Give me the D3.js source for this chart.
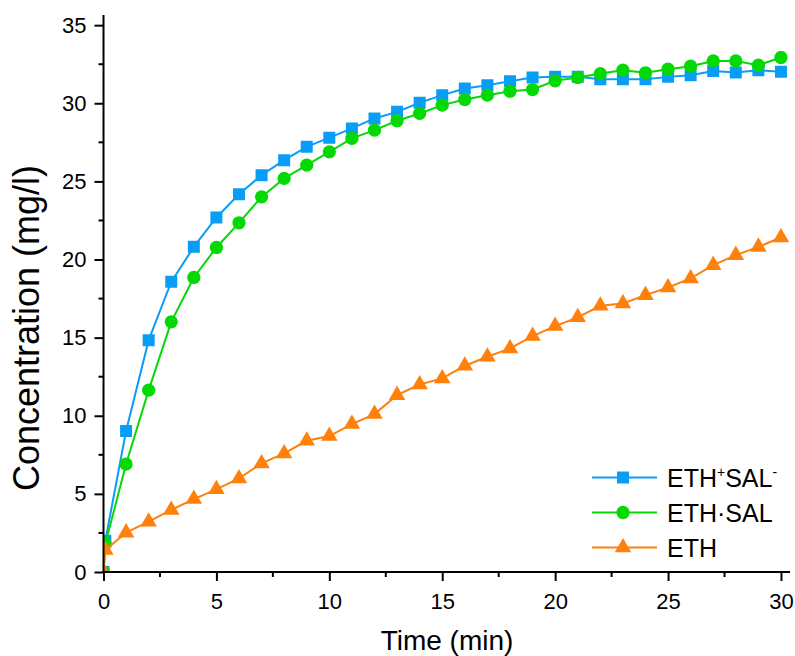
<!DOCTYPE html>
<html><head><meta charset="utf-8">
<script src="https://cdn.jsdelivr.net/npm/d3@7"></script>
<style>body{margin:0;background:#fff}svg{display:block}text{font-family:"Liberation Sans",Arial,sans-serif;fill:#000}</style>
</head><body>
<svg id="c" width="795" height="656"></svg>
<script>
const time = [0, 0.08, 1,2,3,4,5,6,7,8,9,10,11,12,13,14,15,16,17,18,19,20,21,22,23,24,25,26,27,28,29,30];
const ethSal = [0, 2.0, 9.02, 14.84, 18.57, 20.81, 22.69, 24.18, 25.4, 26.36, 27.21, 27.8, 28.39, 29.03, 29.45, 30.03, 30.52, 30.95, 31.16, 31.41, 31.65, 31.69, 31.69, 31.54, 31.54, 31.54, 31.69, 31.8, 32.07, 31.97, 32.12, 32.01];
const ethDotSal = [0, 1.8, 6.91, 11.64, 16.01, 18.85, 20.77, 22.35, 24.01, 25.19, 26.04, 26.89, 27.75, 28.28, 28.88, 29.35, 29.88, 30.24, 30.52, 30.77, 30.88, 31.44, 31.65, 31.9, 32.12, 31.95, 32.18, 32.37, 32.71, 32.71, 32.44, 32.93];
const eth = [0, 1.41, 2.52, 3.22, 3.97, 4.67, 5.29, 5.99, 6.95, 7.59, 8.4, 8.7, 9.47, 10.11, 11.32, 12.0, 12.39, 13.2, 13.78, 14.31, 15.1, 15.74, 16.3, 17.04, 17.19, 17.72, 18.21, 18.79, 19.64, 20.28, 20.81, 21.41];
const xTicks = [0,5,10,15,20,25,30];
const yTicks = [0,5,10,15,20,25,30,35];

const series = [
  {name:"ETH+SAL-", values: ethSal, color:"#0a9df5", symbol:d3.symbolSquare, size:144},
  {name:"ETH·SAL", values: ethDotSal, color:"#05d805", symbol:d3.symbolCircle, size:138},
  {name:"ETH", values: eth, color:"#ff800a", symbol:d3.symbolTriangle, size:118}
];

const svg = d3.select("#c");
const x = d3.scaleLinear().domain([0, 30.4]).range([103.5, 790]);
const y = d3.scaleLinear().domain([0, 35.65]).range([572, 15]);

svg.append("clipPath").attr("id","clip").append("rect")
  .attr("x", x(0)).attr("y", y(35.65)).attr("width", x(30.4)-x(0)).attr("height", y(0)-y(35.65));

const plot = svg.append("g").attr("clip-path","url(#clip)");
const line = d3.line().x((d,i)=>x(time[i])).y(d=>y(d));
series.forEach(s=>{
  plot.append("path").attr("d", line(s.values)).attr("fill","none")
    .attr("stroke", s.color).attr("stroke-width", 2);
  plot.selectAll(null).data(s.values).enter().append("path")
    .attr("transform",(d,i)=>`translate(${x(time[i])},${y(d)})`)
    .attr("d", d3.symbol().type(s.symbol).size(s.size)())
    .attr("fill", s.color);
});

// axes
const xAxis = svg.append("g").attr("transform",`translate(0,${y(0)})`)
  .call(d3.axisBottom(x).tickValues(xTicks).tickSize(9).tickPadding(12).tickFormat(d3.format("d")));
const yAxis = svg.append("g").attr("transform",`translate(${x(0)},0)`)
  .call(d3.axisLeft(y).tickValues(yTicks).tickSize(9).tickPadding(8).tickFormat(d3.format("d")));
[xAxis,yAxis].forEach(a=>{
  a.select(".domain").remove();
  a.selectAll(".tick line").attr("stroke","#000").attr("stroke-width",2);
  a.selectAll(".tick text").attr("font-size",22).attr("font-family","Liberation Sans, Arial, sans-serif");
});
// minor ticks
const xMinor = d3.range(2.5, 30.4, 5);
const yMinor = d3.range(2.5, 35.65, 5);
svg.append("g").selectAll("line").data(xMinor).enter().append("line")
  .attr("x1",d=>x(d)).attr("x2",d=>x(d)).attr("y1",y(0)).attr("y2",y(0)+5)
  .attr("stroke","#000").attr("stroke-width",2);
svg.append("g").selectAll("line").data(yMinor).enter().append("line")
  .attr("y1",d=>y(d)).attr("y2",d=>y(d)).attr("x1",x(0)).attr("x2",x(0)-5)
  .attr("stroke","#000").attr("stroke-width",2);
// axis lines
svg.append("line").attr("x1",x(0)).attr("x2",x(0)).attr("y1",y(0)+1).attr("y2",y(35.65))
  .attr("stroke","#000").attr("stroke-width",2);
svg.append("line").attr("x1",x(0)-1).attr("x2",x(30.4)).attr("y1",y(0)).attr("y2",y(0))
  .attr("stroke","#000").attr("stroke-width",2);

// titles
svg.append("text").attr("x", 447).attr("y", 650).attr("text-anchor","middle")
  .attr("font-size",28).text("Time (min)");
svg.append("text").attr("transform","translate(39,328) rotate(-90)").attr("text-anchor","middle")
  .attr("font-size",36).text("Concentration (mg/l)");

// legend
const leg = svg.append("g");
const rows = [477.5, 512.5, 547.5];
series.forEach((s,i)=>{
  const g = leg.append("g").attr("transform",`translate(0,${rows[i]})`);
  g.append("line").attr("x1",592).attr("x2",657).attr("y1",0).attr("y2",0)
    .attr("stroke",s.color).attr("stroke-width",2);
  g.append("path").attr("transform","translate(623,0)")
    .attr("d", d3.symbol().type(s.symbol).size(s.size)()).attr("fill",s.color);
  const t = g.append("text").attr("x",667).attr("y",9).attr("font-size",25);
  if (i===0) {
    t.append("tspan").text("ETH");
    t.append("tspan").attr("dy",-10).attr("font-size",14).text("+");
    t.append("tspan").attr("dy",10).text("SAL");
    t.append("tspan").attr("dy",-10).attr("font-size",14).text("-");
  } else {
    t.text(s.name);
  }
});
</script>
</body></html>
